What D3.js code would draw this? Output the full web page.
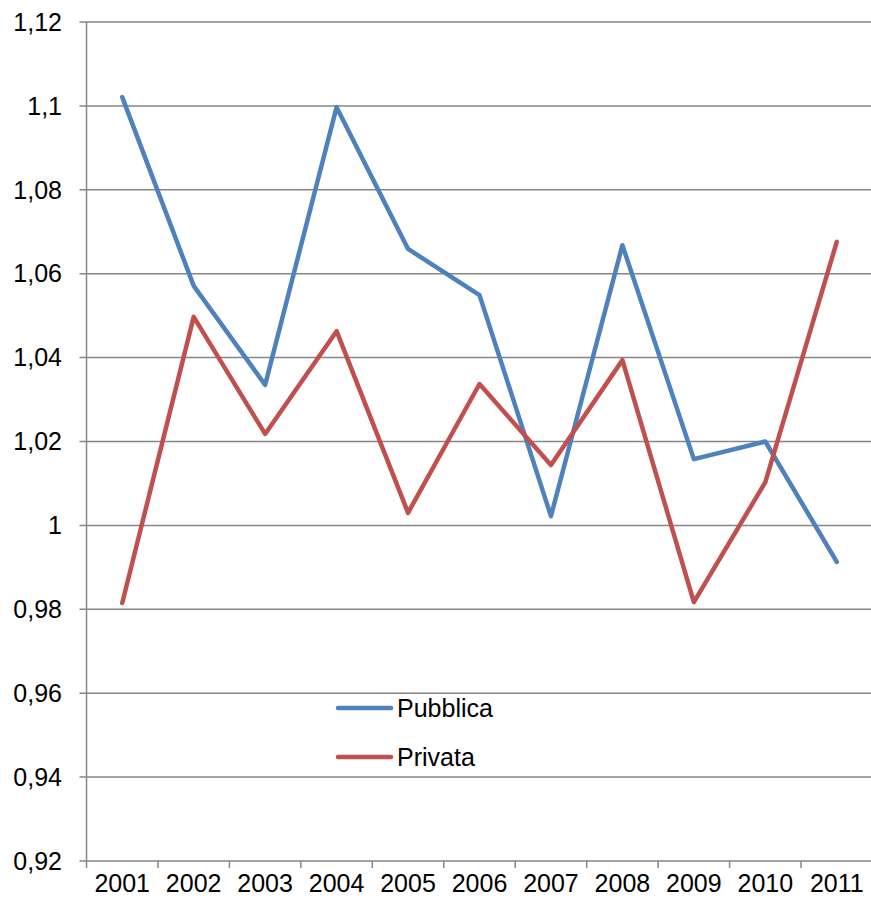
<!DOCTYPE html>
<html>
<head>
<meta charset="utf-8">
<script src="https://cdn.jsdelivr.net/npm/d3@7"></script>
<style>
  html, body { margin: 0; padding: 0; background: #fff; }
  svg { display: block; }
  text { font-family: "Liberation Sans", Arial, sans-serif; fill: #000; }
</style>
</head>
<body>
<svg id="chart" width="871" height="905"></svg>
<script>
const years = ["2001","2002","2003","2004","2005","2006","2007","2008","2009","2010","2011"];
const pubblica = [1.1021, 1.0571, 1.0335, 1.0997, 1.0659, 1.0549, 1.0022, 1.0668, 1.0158, 1.0200, 0.9913];
const privata  = [0.9815, 1.0497, 1.0218, 1.0463, 1.0030, 1.0337, 1.0144, 1.0394, 0.9817, 1.0103, 1.0676];
const yTicks = [0.92, 0.94, 0.96, 0.98, 1.00, 1.02, 1.04, 1.06, 1.08, 1.10, 1.12];
const seriesNames = ["Pubblica", "Privata"];
const seriesColors = ["#4F81BD", "#C0504D"];

const svg = d3.select("#chart");
const plotLeft = 86.5, plotRight = 872.5, plotTop = 22, plotBottom = 861;
const fontSize = 25;

const x = d3.scaleBand().domain(years).range([plotLeft, plotRight]);
const y = d3.scaleLinear().domain([0.92, 1.12]).range([plotBottom, plotTop]);

const fmt = v => String(+v.toFixed(2)).replace(".", ",");

// horizontal gridlines with short ticks left of the axis
svg.append("g")
  .selectAll("line").data(yTicks).join("line")
  .attr("x1", plotLeft - 7).attr("x2", 871)
  .attr("y1", d => y(d)).attr("y2", d => y(d))
  .attr("stroke", "#868686").attr("stroke-width", 1.5);

svg.append("g")
  .selectAll("text").data(yTicks).join("text")
  .attr("x", 62).attr("y", d => y(d))
  .attr("dy", "0.35em").attr("text-anchor", "end")
  .attr("font-size", fontSize)
  .text(fmt);

// y axis line
svg.append("line")
  .attr("x1", plotLeft).attr("x2", plotLeft).attr("y1", plotTop).attr("y2", plotBottom)
  .attr("stroke", "#868686").attr("stroke-width", 1.5);

// x category separators
const xTickPos = years.map(d => x(d)).concat([plotRight]);
svg.append("g")
  .selectAll("line").data(xTickPos).join("line")
  .attr("x1", d => d).attr("x2", d => d)
  .attr("y1", plotBottom).attr("y2", plotBottom + 7)
  .attr("stroke", "#868686").attr("stroke-width", 1.5);

svg.append("g")
  .selectAll("text").data(years).join("text")
  .attr("x", d => x(d) + x.bandwidth() / 2).attr("y", 892)
  .attr("text-anchor", "middle").attr("font-size", fontSize)
  .text(d => d);

// series lines
const line = d3.line()
  .x((d, i) => x(years[i]) + x.bandwidth() / 2)
  .y(d => y(d));

[pubblica, privata].forEach((vals, k) => {
  svg.append("path")
    .datum(vals)
    .attr("fill", "none")
    .attr("stroke", seriesColors[k])
    .attr("stroke-width", 4.5)
    .attr("stroke-linejoin", "round")
    .attr("stroke-linecap", "round")
    .attr("d", line);
});

// legend
const legend = svg.append("g");
seriesNames.forEach((name, k) => {
  const ly = 708 + k * 49;
  legend.append("line")
    .attr("x1", 338).attr("x2", 391).attr("y1", ly).attr("y2", ly)
    .attr("stroke", seriesColors[k]).attr("stroke-width", 4.5)
    .attr("stroke-linecap", "round");
  legend.append("text")
    .attr("x", 397).attr("y", ly).attr("dy", "0.35em")
    .attr("font-size", fontSize).text(name);
});
</script>
</body>
</html>
